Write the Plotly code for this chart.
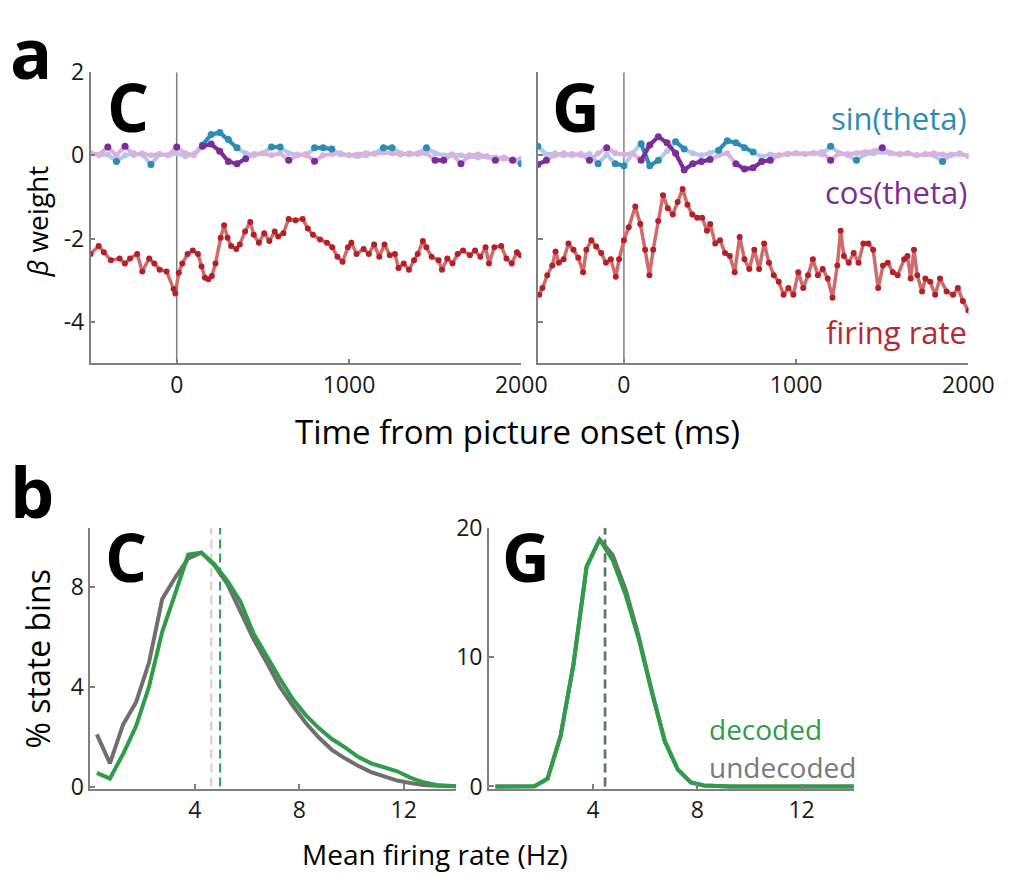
import plotly.graph_objects as go

W, H = 1010, 892

# ---------------- panel a data ----------------
t_fr_C = [-500, -453, -423, -382, -332, -301, -271, -230, -200, -160, -130, -99, -59, -18, -8, 12, 32, 63, 93, 123,
          144, 164, 184, 204, 225, 255, 275, 295, 316, 346, 366, 397, 427, 447, 477, 508, 538, 569, 589, 619,
          650, 690, 731, 761, 791, 832, 872, 903, 933, 963, 994, 1014, 1044, 1085, 1115, 1146, 1176, 1206, 1237, 1267,
          1287, 1318, 1348, 1378, 1399, 1429, 1449, 1480, 1520, 1540, 1571, 1601, 1631, 1662, 1702, 1732, 1763, 1793,
          1813, 1844, 1884, 1914, 1945, 1975, 1996]
fr_C = [-2.37, -2.18, -2.33, -2.52, -2.48, -2.6, -2.48, -2.37, -2.79, -2.48, -2.6, -2.75, -2.79, -3.21, -3.32, -2.82,
        -2.6, -2.37, -2.29, -2.37, -2.67, -2.94, -2.98, -2.9, -2.6, -1.98, -1.68, -1.98, -2.18, -2.25, -2.14, -1.83,
        -1.6, -1.91, -2.1, -1.87, -2.06, -1.83, -1.95, -1.87, -1.53, -1.56, -1.53, -1.76, -1.91, -2.02, -2.1, -2.21,
        -2.44, -2.56, -2.21, -2.1, -2.37, -2.25, -2.37, -2.14, -2.44, -2.14, -2.4, -2.37, -2.71, -2.6, -2.75, -2.52,
        -2.37, -2.06, -2.21, -2.44, -2.52, -2.75, -2.48, -2.6, -2.37, -2.29, -2.4, -2.29, -2.44, -2.21, -2.6, -2.21,
        -2.18, -2.48, -2.6, -2.33, -2.4]

t_fr_G = [-492, -473, -445, -416, -397, -378, -350, -322, -293, -265, -237, -218, -189, -161, -132, -104, -76, -47, -28, 0,
          28, 66, 95, 123, 148, 170, 199, 227, 255, 284, 312, 341, 369, 397, 426, 454, 482, 501, 530, 558,
          587, 615, 643, 672, 700, 728, 757, 785, 814, 842, 870, 899, 927, 955, 984, 1012, 1041, 1069, 1097, 1126,
          1154, 1183, 1211, 1239, 1258, 1277, 1305, 1334, 1362, 1390, 1419, 1447, 1476, 1504, 1532, 1561, 1589, 1627,
          1646, 1665, 1684, 1703, 1731, 1750, 1778, 1807, 1835, 1873, 1911, 1939, 1968, 2000]
fr_G = [-3.35, -3.19, -2.88, -2.65, -2.31, -2.58, -2.5, -2.12, -2.27, -2.46, -2.81, -2.27, -2.04, -2.19, -2.35, -2.58,
        -2.5, -2.92, -2.5, -2.04, -1.73, -1.23, -1.65, -2.27, -2.88, -2.27, -1.58, -0.96, -1.27, -1.42, -1.12, -0.81,
        -1.19, -1.42, -1.5, -1.5, -1.81, -1.65, -2.12, -2.04, -2.35, -2.42, -2.81, -1.96, -2.5, -2.73, -2.27, -2.73,
        -2.12, -2.58, -2.88, -3.04, -3.35, -3.19, -3.35, -2.81, -3.19, -2.88, -2.5, -2.88, -2.73, -2.96, -3.42, -2.65,
        -1.81, -2.42, -2.58, -2.35, -2.58, -2.12, -2.12, -2.27, -3.19, -2.65, -2.58, -2.81, -2.88, -2.5, -2.42, -2.96,
        -2.27, -2.88, -3.27, -2.96, -3.04, -3.35, -2.96, -3.27, -3.35, -3.19, -3.5, -3.73]

t_trig = [-500, -450, -400, -350, -300, -250, -200, -150, -100, -50, 0, 50, 100, 150, 200, 250, 300, 350, 400, 450,
          500, 550, 600, 650, 700, 750, 800, 850, 900, 950, 1000, 1050, 1100, 1150, 1200, 1250, 1300, 1350, 1400,
          1450, 1500, 1550, 1600, 1650, 1700, 1750, 1800, 1850, 1900, 1950, 2000]

sin_C = [0.05, 0.0, 0.02, -0.15, 0.0, 0.05, 0.02, -0.22, 0.03, 0.0,
         0.05, -0.02, 0.03, 0.25, 0.5, 0.55, 0.38, 0.18, 0.05, 0.0,
         0.05, 0.2, 0.2, 0.05, 0.02, 0.0, 0.18, 0.18, 0.15, 0.02,
         0.0, -0.02, 0.0, 0.05, 0.18, 0.18, 0.05, 0.02, 0.05, 0.18,
         0.05, 0.0, 0.02, 0.0, -0.02, -0.05, -0.02, -0.05, -0.08, -0.1,
         -0.2]
sig_sin_C = [0, 0, 0, 1, 0, 0, 0, 1, 0, 0,
             0, 0, 0, 1, 1, 1, 1, 1, 0, 0,
             0, 1, 1, 0, 0, 0, 1, 1, 1, 0,
             0, 0, 0, 0, 1, 1, 0, 0, 0, 1,
             0, 0, 0, 0, 0, 0, 0, 0, 0, 0,
             1]
cos_C = [0.05, 0.02, 0.2, 0.0, 0.22, 0.0, 0.05, 0.0, 0.03, 0.0,
         0.2, 0.05, 0.0, 0.22, 0.27, 0.1, -0.15, -0.2, -0.08, 0.03,
         0.05, 0.0, 0.05, -0.12, 0.0, 0.03, -0.14, 0.0, 0.03, 0.05,
         0.0, 0.02, 0.05, 0.03, 0.07, 0.05, 0.02, 0.05, 0.03, 0.05,
         -0.12, -0.12, 0.02, -0.2, 0.0, 0.02, -0.03, -0.12, -0.05, -0.12,
         -0.08]
sig_cos_C = [0, 0, 1, 0, 1, 0, 0, 0, 0, 0,
             1, 0, 0, 1, 1, 1, 1, 1, 1, 0,
             0, 0, 0, 1, 0, 0, 1, 0, 0, 0,
             0, 0, 0, 0, 0, 0, 0, 0, 0, 0,
             1, 1, 0, 1, 0, 0, 0, 1, 0, 1,
             0]

sin_G = [0.22, 0.02, 0.05, 0.0, 0.03, 0.0, 0.03, -0.2, 0.02, -0.2,
         -0.25, 0.05, 0.28, -0.25, -0.12, 0.1, 0.33, 0.15, 0.05, 0.0,
         0.05, 0.12, 0.35, 0.3, 0.18, 0.08, -0.03, 0.02, 0.0, 0.03,
         0.05, 0.03, 0.05, 0.02, 0.22, 0.05, 0.0, -0.12, 0.03, 0.05,
         0.08, 0.05, 0.02, 0.05, 0.0, 0.02, 0.0, -0.15, 0.02, 0.05,
         -0.02]
sig_sin_G = [1, 0, 0, 0, 0, 0, 0, 1, 0, 1,
             1, 0, 1, 1, 1, 0, 1, 1, 0, 0,
             0, 1, 1, 1, 1, 1, 0, 0, 0, 0,
             0, 0, 0, 0, 1, 0, 0, 1, 0, 0,
             0, 0, 0, 0, 0, 0, 0, 1, 0, 0,
             0]
cos_G = [-0.22, -0.12, 0.0, 0.05, 0.0, 0.03, -0.12, 0.05, 0.18, 0.05,
         0.02, 0.05, -0.12, 0.25, 0.45, 0.3, 0.05, -0.35, -0.2, -0.15,
         -0.1, 0.0, 0.05, -0.2, -0.33, -0.3, -0.15, -0.12, 0.0, 0.03,
         0.05, 0.03, 0.05, 0.08, -0.12, 0.05, 0.03, 0.05, 0.08, 0.1,
         0.18, 0.05, 0.03, 0.05, 0.0, 0.03, 0.05, 0.02, 0.0, 0.03,
         -0.02]
sig_cos_G = [1, 1, 0, 0, 0, 0, 1, 0, 1, 0,
             0, 0, 1, 1, 1, 1, 1, 1, 1, 1,
             1, 0, 0, 1, 1, 1, 1, 1, 0, 0,
             0, 0, 0, 0, 1, 0, 0, 0, 0, 0,
             1, 0, 0, 0, 0, 0, 0, 0, 0, 0,
             0]

# ---------------- panel b data ----------------
rate_bins = [0.25, 0.75, 1.25, 1.75, 2.25, 2.75, 3.25, 3.75, 4.25, 4.75, 5.25, 5.75, 6.25, 6.75, 7.25,
             7.75, 8.25, 8.75, 9.25, 9.75, 10.25, 10.75, 11.25, 11.75, 12.25, 12.75, 13.25, 13.75, 14.25]
C_undecoded = [2.09, 0.93, 2.47, 3.37, 4.97, 7.49, 8.36, 9.13, 9.36, 8.85, 8.1, 7.02, 5.9, 4.97, 4.0,
               3.24, 2.54, 1.96, 1.47, 1.13, 0.83, 0.58, 0.4, 0.24, 0.14, 0.06, 0.03, 0.01, 0.0]
C_decoded = [0.55, 0.32, 1.29, 2.41, 4.0, 6.18, 7.72, 9.28, 9.36, 8.9, 8.23, 7.4, 6.12, 5.22, 4.33,
             3.5, 2.86, 2.34, 1.9, 1.57, 1.19, 0.93, 0.77, 0.61, 0.36, 0.17, 0.06, 0.03, 0.0]
G_undecoded = [0, 0, 0, 0.02, 0.6, 3.9, 9.5, 17.0, 19.1, 17.9, 15.2, 11.6, 7.4, 3.5, 1.3,
               0.32, 0.07, 0.01, 0, 0, 0, 0, 0, 0, 0, 0, 0, 0, 0]
G_decoded = [0, 0, 0, 0.02, 0.6, 3.9, 9.5, 17.0, 19.1, 17.5, 14.8, 11.4, 7.3, 3.5, 1.3,
             0.32, 0.07, 0.01, 0, 0, 0, 0, 0, 0, 0, 0, 0, 0, 0]
C_mean_undecoded, C_mean_decoded = 4.63, 4.97
G_mean_undecoded, G_mean_decoded = 4.44, 4.47

# ---------------- styling ----------------
FONT = "Open Sans"
TEAL, TEAL_L = "#2b8db3", "#b6c6ea"
PURP, PURP_L = "#7b2d98", "#d8b2dc"
RED, RED_L = "#b51f28", "#cf6b6b"
GREEN, GRAY = "#2f9d48", "#6f6f6f"
AX = "#7f7f7f"


def px(x):
    return x / W


def py(y):
    return 1 - y / H


fig = go.Figure()


def masked(vals, sig):
    return [v if s else None for v, s in zip(vals, sig)]


for xa, ya, sv, ss, cv, cs, tf, fv in [
    ("x", "y", sin_C, sig_sin_C, cos_C, sig_cos_C, t_fr_C, fr_C),
    ("x2", "y2", sin_G, sig_sin_G, cos_G, sig_cos_G, t_fr_G, fr_G),
]:
    fig.add_trace(go.Scatter(x=tf, y=fv, xaxis=xa, yaxis=ya, mode="lines+markers",
                             line=dict(color=RED_L, width=3.5), marker=dict(color=RED, size=6),
                             showlegend=False, hoverinfo="skip"))
    fig.add_trace(go.Scatter(x=t_trig, y=sv, xaxis=xa, yaxis=ya, mode="lines+markers",
                             line=dict(color=TEAL_L, width=4), marker=dict(color=TEAL_L, size=6),
                             showlegend=False, hoverinfo="skip"))
    fig.add_trace(go.Scatter(x=t_trig, y=cv, xaxis=xa, yaxis=ya, mode="lines+markers",
                             line=dict(color=PURP_L, width=4), marker=dict(color=PURP_L, size=6),
                             showlegend=False, hoverinfo="skip"))
    fig.add_trace(go.Scatter(x=t_trig, y=masked(sv, ss), xaxis=xa, yaxis=ya, mode="lines+markers",
                             connectgaps=False, line=dict(color=TEAL, width=4),
                             marker=dict(color=TEAL, size=7), showlegend=False, hoverinfo="skip"))
    fig.add_trace(go.Scatter(x=t_trig, y=masked(cv, cs), xaxis=xa, yaxis=ya, mode="lines+markers",
                             connectgaps=False, line=dict(color=PURP, width=4),
                             marker=dict(color=PURP, size=7), showlegend=False, hoverinfo="skip"))

for xa, ya, und, dec in [("x3", "y3", C_undecoded, C_decoded), ("x4", "y4", G_undecoded, G_decoded)]:
    fig.add_trace(go.Scatter(x=rate_bins, y=und, xaxis=xa, yaxis=ya, mode="lines",
                             line=dict(color=GRAY, width=4), showlegend=False, hoverinfo="skip"))
    fig.add_trace(go.Scatter(x=rate_bins, y=dec, xaxis=xa, yaxis=ya, mode="lines",
                             line=dict(color=GREEN, width=4), showlegend=False, hoverinfo="skip"))

shapes = []
for xr, yr in [("x", "y"), ("x2", "y2")]:
    shapes.append(dict(type="line", xref=xr, yref=yr, x0=0, x1=0, y0=-5, y1=2,
                       line=dict(color=AX, width=1.5), layer="below"))
for xr, yr, xm, col, top in [("x3", "y3", C_mean_undecoded, "#cfcfcf", 10.35),
                             ("x3", "y3", C_mean_decoded, GREEN, 10.35),
                             ("x4", "y4", G_mean_undecoded, "#8a8a8a", 20),
                             ("x4", "y4", G_mean_decoded, "#4f7a5a", 20)]:
    shapes.append(dict(type="line", xref=xr, yref=yr, x0=xm, x1=xm, y0=0, y1=top,
                       line=dict(color=col, width=2, dash="9px,5px"), layer="below"))

ax_common = dict(showline=True, linecolor=AX, linewidth=1.5, ticks="inside", ticklen=5,
                 tickcolor=AX, tickwidth=1.5, showgrid=False, zeroline=False,
                 tickfont=dict(family=FONT, size=23, color="#1a1a1a"))

top_dom = [py(358), py(57)]
bot_dom = [py(798), py(528)]

fig.update_layout(
    width=W, height=H, margin=dict(l=0, r=0, t=0, b=0),
    paper_bgcolor="white", plot_bgcolor="white",
    font=dict(family=FONT),
    xaxis=dict(ax_common, domain=[px(93), px(535)], range=[-500, 2000], tickvals=[0, 1000, 2000], anchor="y"),
    yaxis=dict(ax_common, domain=top_dom, range=[-5, 2], tickvals=[-4, -2, 0, 2],
               ticktext=["-4", "-2", "0", "2"], anchor="x"),
    xaxis2=dict(ax_common, domain=[px(552), px(994)], range=[-500, 2000], tickvals=[0, 1000, 2000], anchor="y2"),
    yaxis2=dict(ax_common, domain=top_dom, range=[-5, 2], tickvals=[-4, -2, 0, 2],
                showticklabels=False, anchor="x2"),
    xaxis3=dict(ax_common, domain=[px(92.7), px(468)], range=[0, 14], tickvals=[4, 8, 12], anchor="y3"),
    yaxis3=dict(ax_common, domain=bot_dom, range=[-0.1, 10.35], tickvals=[0, 4, 8], anchor="x3"),
    xaxis4=dict(ax_common, domain=[px(501.8), px(876.3)], range=[0, 14], tickvals=[4, 8, 12], anchor="y4"),
    yaxis4=dict(ax_common, domain=bot_dom, range=[-0.2, 20], tickvals=[0, 10, 20], anchor="x4"),
    shapes=shapes,
)

ann = []


def txt(s, x, y, size, color="black", bold=False, xanchor="center", yanchor="middle", angle=0):
    ann.append(dict(text=("<b>%s</b>" % s) if bold else s, x=px(x), y=py(y), xref="paper", yref="paper",
                    showarrow=False, xanchor=xanchor, yanchor=yanchor, textangle=angle,
                    font=dict(family=FONT, size=size, color=color)))


txt("a", 8, 36, 70, bold=True, xanchor="left")
txt("b", 8, 490, 70, bold=True, xanchor="left")
txt("C", 131, 92, 66, bold=True)
txt("G", 591, 92, 66, bold=True)
txt("C", 129, 557, 66, bold=True)
txt("G", 540, 557, 66, bold=True)
txt("sin(theta)", 995, 104, 31, color=TEAL, xanchor="right")
txt("cos(theta)", 995, 181, 31, color=PURP, xanchor="right")
txt("firing rate", 995, 326, 31, color="#b8282e", xanchor="right")
txt("decoded", 726, 736, 28, color=GREEN, xanchor="left")
txt("undecoded", 726, 775, 28, color="#7a7a7a", xanchor="left")
txt("Time from picture onset (ms)", 531, 428, 33)
txt("Mean firing rate (Hz)", 446, 865, 28)
txt("<i>β</i> weight", 38, 212, 28, angle=-90)
txt("% state bins", 38, 664, 32, angle=-90)

fig.update_layout(annotations=ann)
fig.write_html("out.html")
